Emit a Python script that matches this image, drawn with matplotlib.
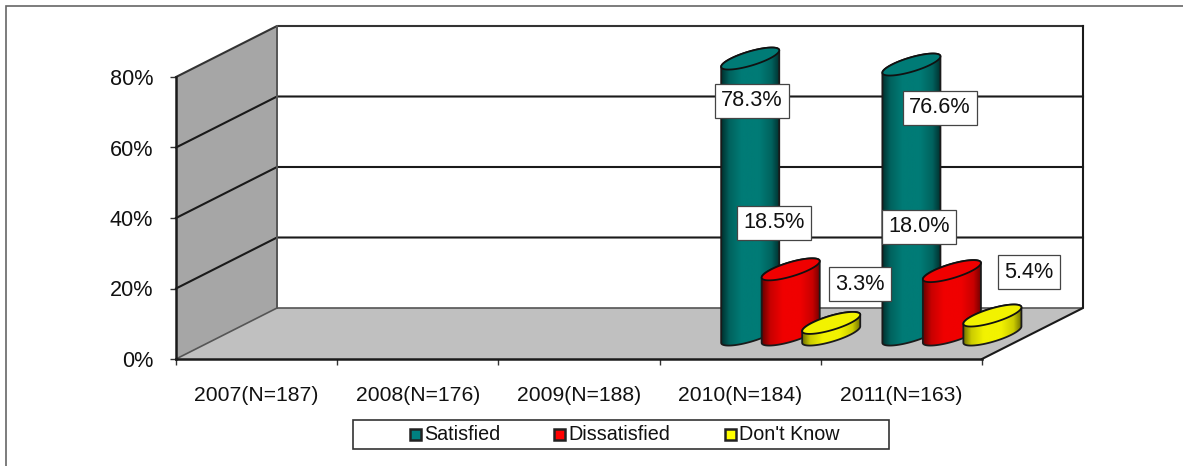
import numpy as np
import matplotlib
matplotlib.use('Agg')
import matplotlib.pyplot as plt
from matplotlib.patches import Polygon, Rectangle
from matplotlib.colors import LinearSegmentedColormap

plt.rcParams['font.family'] = ['Liberation Sans', 'DejaVu Sans']

#DATA
categories = ['2007(N=187)', '2008(N=176)', '2009(N=188)', '2010(N=184)', '2011(N=163)']
series_names = ['Satisfied', 'Dissatisfied', "Don't Know"]
satisfied = [np.nan, np.nan, np.nan, 78.3, 76.6]
dissatisfied = [np.nan, np.nan, np.nan, 18.5, 18.0]
dont_know = [np.nan, np.nan, np.nan, 3.3, 5.4]
y_ticks = [0, 20, 40, 60, 80]

# figure layout, in pixels
W, H = 1183, 466
X0, X1 = 176, 982
Y0, Y1 = 359, 77
DX, DY = 101, 51
XS = (X1 - X0) / 5      # px per category
YS = (Y0 - Y1) / 80     # px per percent

fig = plt.figure(figsize=(W / 100, H / 100), dpi=100)
ax = fig.add_axes([X0 / W, 1 - Y0 / H, (X1 - X0) / W, (Y0 - Y1) / H])
ax.set_facecolor('none')
for s in ax.spines.values():
    s.set_visible(False)

# outer frame
fig.add_artist(Rectangle((5.5 / W, -0.1), 1.2, 1 - 6 / H + 0.1, transform=fig.transFigure,
                         fill=False, ec='#666666', lw=1.2))

depth_x = DX / XS
depth_y = DY / YS
n = len(categories)

# walls and floor
ax.add_patch(Polygon([(depth_x, depth_y), (n + depth_x, depth_y), (n + depth_x, 80 + depth_y),
                      (depth_x, 80 + depth_y)], fc='white', ec='none', zorder=1, clip_on=False))
ax.add_patch(Polygon([(0, 0), (depth_x, depth_y), (depth_x, 80 + depth_y), (0, 80)],
                     fc='#a6a6a6', ec='none', zorder=1, clip_on=False))
ax.add_patch(Polygon([(0, 0), (depth_x, depth_y), (n + depth_x, depth_y), (n, 0)],
                     fc='#c0c0c0', ec='none', zorder=1, clip_on=False))

# gridlines
for v in y_ticks[1:-1]:
    ax.plot([0, depth_x, n + depth_x], [v, v + depth_y, v + depth_y], color='#1a1a1a', lw=1.5,
            zorder=2, clip_on=False)
ax.plot([0, depth_x, n + depth_x], [80, 80 + depth_y, 80 + depth_y], color='#333333', lw=1.5,
        zorder=2, clip_on=False)
ax.plot([0, depth_x, n + depth_x], [0, depth_y, depth_y], color='#555555', lw=1.2, zorder=2, clip_on=False)
ax.plot([depth_x, depth_x], [depth_y, 80 + depth_y], color='#555555', lw=1.4, zorder=2, clip_on=False)
ax.plot([n + depth_x, n + depth_x, n], [80 + depth_y, depth_y, 0], color='#1a1a1a', lw=1.5, zorder=2, clip_on=False)
ax.plot([0, 0], [0, 80], color='#1a1a1a', lw=1.8, zorder=3, clip_on=False)
ax.plot([0, n], [0, 0], color='#1a1a1a', lw=1.8, zorder=3, clip_on=False)


def cylinder(xc, base, val, colors, zorder):
    # cylinder standing on the floor, elliptical footprint inside a skewed square
    ux, vx, vy = 19.4 / XS, 21.6 / XS, 11.0 / YS
    t = np.linspace(0, 2 * np.pi, 121)
    ex = ux * np.cos(t) + vx * np.sin(t)
    ey = vy * np.sin(t)
    half = np.sqrt(ux ** 2 + vx ** 2)
    tl = np.arctan2(vx, ux)     # angle of the rightmost point
    s = np.linspace(tl, tl - np.pi, 80)      # lower edge, right to left
    lx = ux * np.cos(s) + vx * np.sin(s)
    ly = vy * np.sin(s)
    body_x = np.r_[xc + lx, xc - lx]
    body_y = np.r_[base + ly, base + val - ly]
    body = Polygon(np.c_[body_x, body_y], closed=True, fc='none', ec='none', clip_on=False)
    ax.add_patch(body)
    cmap = LinearSegmentedColormap.from_list('c', [(0, colors[2]), (0.14, colors[1]), (0.35, colors[0]),
                                                   (0.65, colors[0]), (0.86, colors[1]), (1, colors[2])])
    grad = np.linspace(0, 1, 128).reshape(1, -1)
    im = ax.imshow(grad, cmap=cmap, extent=[xc - half, xc + half, base - vy * 1.2, base + val + vy * 1.2],
                   aspect='auto', zorder=zorder)
    im.set_clip_path(body)
    im.set_clip_box(fig.bbox)   # images stop at the axes otherwise
    ax.add_patch(Polygon(np.c_[body_x, body_y], closed=True, fc='none', ec='#1a1a1a', lw=1.3,
                         zorder=zorder + 0.1, clip_on=False))
    ax.add_patch(Polygon(np.c_[xc + ex, base + val + ey], closed=True, fc=colors[0], ec='#111111', lw=1.3,
                         zorder=zorder + 0.2, clip_on=False))


teal = ('#007b76', '#00625e', '#002f2d')
red = ('#f00000', '#c80000', '#6a0000')
yellow = ('#f2f200', '#cccc00', '#6e6e00')
all_series = [satisfied, dissatisfied, dont_know]
all_colors = [teal, red, yellow]
legend_colors = ['#008080', '#ff0000', '#ffff00']

bar_step = 40.5 / XS
z = 4
for c in range(n):
    for i, vals in enumerate(all_series):
        if np.isnan(vals[c]):
            continue
        xc = c + 0.5 + (i - 1) * bar_step + depth_x / 2
        cylinder(xc, depth_y / 2 - 0.3, vals[c], all_colors[i], z)
        z += 1

# data labels, placed by hand like in the source
label_pos = {
    (0, 3): (752, 100.5), (0, 4): (940, 107.5),
    (1, 3): (774, 222.5), (1, 4): (919, 226.5),
    (2, 3): (860, 284), (2, 4): (1029, 272),
}
for (i, c), (px, py) in label_pos.items():
    tx, ty = (px - X0) / XS, (Y0 - py) / YS
    ax.text(tx, ty, '%.1f%%' % all_series[i][c], ha='center', va='center', fontsize=15.6, color='#111111',
            zorder=40, clip_on=False,
            bbox=dict(boxstyle='square,pad=0.3', fc='white', ec='#444444', lw=0.9))

ax.set_xlim(0, n)
ax.set_ylim(0, 80)
ax.set_xticks(range(n + 1))
ax.set_xticklabels([])
ax.set_xticks(np.arange(n) + 0.5, minor=True)
ax.set_xticklabels(categories, minor=True, fontsize=15.2, color='#111111')
ax.tick_params(axis='x', which='major', length=4.3, width=1, color='#333333', direction='out')
ax.tick_params(axis='x', which='minor', length=0, pad=19.5)
ax.set_yticks(y_ticks)
ax.set_yticklabels(['%d%%' % v for v in y_ticks], fontsize=15.6, color='#111111')
ax.tick_params(axis='y', length=4.3, width=1, color='#333333', pad=12)

# legend box
fig.add_artist(Rectangle((352.5 / W, 1 - 449 / H), 536 / W, 29.5 / H, transform=fig.transFigure,
                         fc='white', ec='#333333', lw=1.2))
legend_x = [410, 554, 725]
for name, col, lx in zip(series_names, legend_colors, legend_x):
    fig.add_artist(Rectangle((lx / W, 1 - 439.5 / H), 10.5 / W, 10.5 / H, transform=fig.transFigure,
                             fc=col, ec='#222222', lw=1.8))
    fig.text((lx + 14) / W, 1 - 434.5 / H, name, fontsize=14.2, color='#111111', va='center', ha='left')

fig.savefig('out.png', dpi=100)
